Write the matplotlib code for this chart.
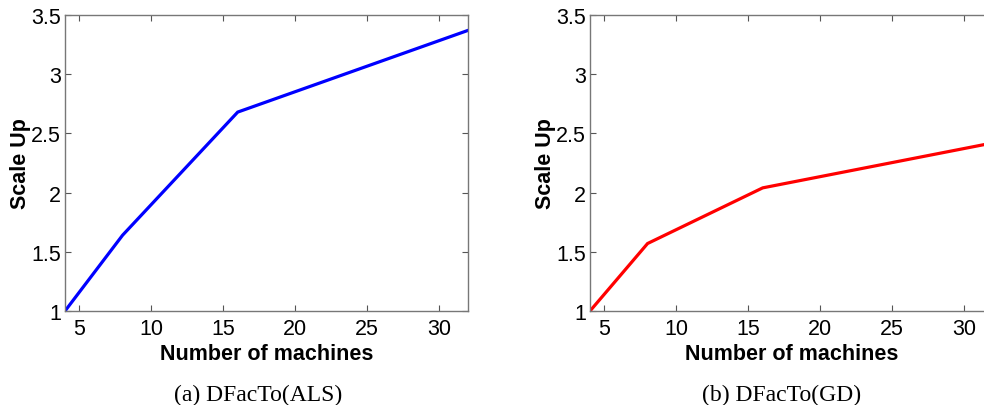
import matplotlib.pyplot as plt

machines = [4, 8, 16, 32]
als_scaleup = [1.0, 1.64, 2.68, 3.37]
gd_scaleup = [1.0, 1.57, 2.04, 2.42]

yticks = [1, 1.5, 2, 2.5, 3, 3.5]
yticklabels = ['1', '1.5', '2', '2.5', '3', '3.5']
xticks = [5, 10, 15, 20, 25, 30]

plt.rcParams['font.family'] = ['Liberation Sans', 'DejaVu Sans']

fig = plt.figure(figsize=(9.84, 4.06), dpi=100)
ax1 = fig.add_axes([65/984, 94/406, 403/984, 296/406])
ax2 = fig.add_axes([590/984, 94/406, 403/984, 296/406])

for ax, y, col, cap, cx in [(ax1, als_scaleup, '#0000ff', '(a) DFacTo(ALS)', 258),
                            (ax2, gd_scaleup, '#ff0000', '(b) DFacTo(GD)', 782)]:
    ax.plot(machines, y, color=col, lw=2.3, solid_joinstyle='miter')
    ax.set_xlim(4, 32)
    ax.set_ylim(1, 3.5)
    ax.set_xticks(xticks)
    ax.set_yticks(yticks)
    ax.set_yticklabels(yticklabels)
    ax.tick_params(direction='in', top=True, right=True, labelsize=15.5,
                   length=4, color='#555555', pad=3)
    ax.tick_params(axis='x', pad=5)
    for s in ax.spines.values():
        s.set_color('#777777')
        s.set_linewidth(1.0)
    ax.set_xlabel('Number of machines', fontsize=15.5, fontweight='bold', labelpad=3)
    ax.set_ylabel('Scale Up', fontsize=15.5, fontweight='bold', labelpad=0)
    fig.text(cx/984, 1 - 395/406, cap, ha='center', va='center',
             fontsize=17, family=['Liberation Serif', 'DejaVu Serif'])

fig.savefig('out.png', dpi=100)
